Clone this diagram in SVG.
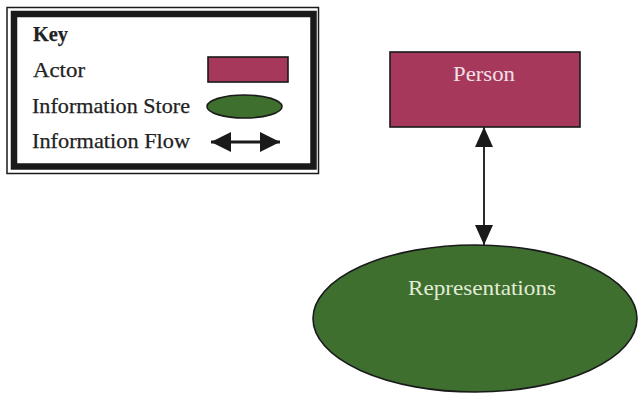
<svg xmlns="http://www.w3.org/2000/svg" width="639" height="394" viewBox="0 0 639 394">
  <defs>
    <style>
      .lbl { font-family: "Liberation Serif", "DejaVu Serif", serif; font-size: 21px; fill: #222222; stroke: #222222; stroke-width: 0.25; }
      .key { font-weight: bold; }
      .actor { fill: #a6385c; stroke: #1a1a1a; stroke-width: 1.6; }
      .store { fill: #3e6f2f; stroke: #1a1a1a; stroke-width: 1.6; }
      .flow { stroke: #2a2a2a; stroke-width: 2; fill: none; }
      .flowKey { stroke: #1a1a1a; stroke-width: 3; fill: none; }
      .head { fill: #1a1a1a; }
      .onActor { font-family: "Liberation Serif", "DejaVu Serif", serif; font-size: 20px; fill: #f3e1e8; }
      .onStore { font-family: "Liberation Serif", "DejaVu Serif", serif; font-size: 21px; fill: #e2ecd6; }
    </style>
    <marker id="arrowEnd" viewBox="0 0 20 18" refX="20" refY="9" markerWidth="20" markerHeight="18" markerUnits="userSpaceOnUse" orient="auto">
      <path d="M0,0 L20,9 L0,18 Z" class="head"/>
    </marker>
    <marker id="arrowStart" viewBox="0 0 20 18" refX="0" refY="9" markerWidth="20" markerHeight="18" markerUnits="userSpaceOnUse" orient="auto">
      <path d="M20,0 L0,9 L20,18 Z" class="head"/>
    </marker>
    <marker id="keyEnd" viewBox="0 0 20 20" refX="20" refY="10" markerWidth="20" markerHeight="20" markerUnits="userSpaceOnUse" orient="auto">
      <path d="M0,0 L20,10 L0,20 Z" class="head"/>
    </marker>
    <marker id="keyStart" viewBox="0 0 20 20" refX="0" refY="10" markerWidth="20" markerHeight="20" markerUnits="userSpaceOnUse" orient="auto">
      <path d="M20,0 L0,10 L20,20 Z" class="head"/>
    </marker>
  </defs>

  <rect width="639" height="394" fill="#ffffff"/>

  <!-- Legend panel -->
  <g id="legend">
    <rect x="7" y="7.5" width="311.5" height="166" fill="#ffffff" stroke="#1a1a1a" stroke-width="1.5"/>
    <rect x="14" y="14" width="299.5" height="152.5" fill="#ffffff" stroke="#1a1a1a" stroke-width="6.5"/>
    <text class="lbl key" x="33" y="41" textLength="35" lengthAdjust="spacingAndGlyphs">Key</text>
    <text class="lbl" x="33" y="77" textLength="52" lengthAdjust="spacingAndGlyphs">Actor</text>
    <text class="lbl" x="32" y="113" textLength="158" lengthAdjust="spacingAndGlyphs">Information Store</text>
    <text class="lbl" x="32" y="148" textLength="158" lengthAdjust="spacingAndGlyphs">Information Flow</text>
    <rect class="actor" x="208" y="57" width="80" height="25"/>
    <ellipse class="store" cx="244.5" cy="106.5" rx="37.5" ry="11.5"/>
    <line class="flowKey" x1="211" y1="142" x2="280" y2="142" marker-start="url(#keyStart)" marker-end="url(#keyEnd)"/>
  </g>

  <!-- Actor node -->
  <g id="person">
    <rect class="actor" x="390" y="52" width="190" height="75"/>
    <text class="onActor" x="484" y="81" text-anchor="middle" textLength="62" lengthAdjust="spacingAndGlyphs">Person</text>
  </g>

  <!-- Information store node -->
  <g id="representations">
    <ellipse class="store" cx="475" cy="318.5" rx="162" ry="73.5"/>
    <text class="onStore" x="482" y="295" text-anchor="middle" textLength="148" lengthAdjust="spacingAndGlyphs">Representations</text>
  </g>

  <!-- Information flows -->
  <g id="connectors">
    <line class="flow" x1="484" y1="127" x2="484" y2="245" marker-start="url(#arrowStart)" marker-end="url(#arrowEnd)"/>
  </g>
</svg>
